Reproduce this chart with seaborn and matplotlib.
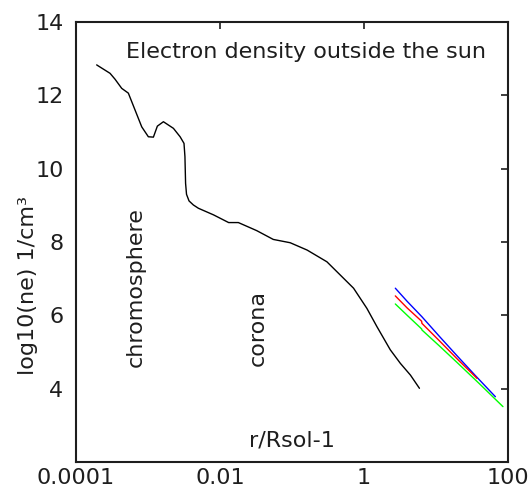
import numpy as np
import pandas as pd
import matplotlib
matplotlib.use("Agg")
import matplotlib.pyplot as plt
import seaborn as sns

# log10(r/Rsol - 1) and log10(ne) for the measured profile (black)
black_logx = [-3.713, -3.527, -3.458, -3.365, -3.273, -3.18, -3.087, -2.995, -2.925,
              -2.87, -2.786, -2.647, -2.554, -2.50, -2.487, -2.478, -2.465, -2.43,
              -2.37, -2.30, -2.09, -1.88, -1.745, -1.49, -1.26, -1.025, -0.79,
              -0.515, -0.33, -0.145, 0.04, 0.18, 0.365, 0.505, 0.645, 0.77]
black_y = [12.83, 12.60, 12.44, 12.19, 12.06, 11.60, 11.14, 10.87, 10.86,
           11.16, 11.28, 11.10, 10.87, 10.69, 10.33, 9.60, 9.30, 9.12,
           9.01, 8.92, 8.74, 8.53, 8.53, 8.31, 8.07, 7.98, 7.78,
           7.46, 7.10, 6.74, 6.19, 5.69, 5.06, 4.69, 4.37, 4.01]

# model fits (blue, red, green)
blue_logx = [0.435, 0.60, 0.805, 1.05, 1.30, 1.55, 1.825]
blue_y = [6.74, 6.38, 5.96, 5.42, 4.88, 4.35, 3.78]
red_logx = [0.435, 0.60, 0.80, 0.805, 1.05, 1.30, 1.57]
red_y = [6.53, 6.20, 5.84, 5.78, 5.30, 4.80, 4.28]
green_logx = [0.435, 0.60, 0.80, 0.805, 1.05, 1.30, 1.60, 1.93]
green_y = [6.31, 6.00, 5.63, 5.60, 5.16, 4.70, 4.14, 3.51]

xticks = [1e-4, 1e-2, 1, 100]
xticklabels = ["0.0001", "0.01", "1", "100"]
yticks = [4, 6, 8, 10, 12, 14]

sns.set_style("white")
plt.rcParams['font.family'] = ['DejaVu Sans']

FS = 16
TXT = "#1e1e1e"

fig = plt.figure(figsize=(5.29, 4.92), dpi=100)
ax = fig.add_axes([76/529, 30/492, 432/529, 440/492])

def frame(lx, y):
    return pd.DataFrame({"x": 10 ** np.array(lx), "y": y})

sns.lineplot(data=frame(black_logx, black_y), x="x", y="y", color="black",
             lw=1.0, estimator=None, sort=False, ax=ax)
sns.lineplot(data=frame(blue_logx, blue_y), x="x", y="y", color="#0000ff",
             lw=1.0, estimator=None, sort=False, ax=ax)
sns.lineplot(data=frame(red_logx, red_y), x="x", y="y", color="#ff0000",
             lw=1.0, estimator=None, sort=False, ax=ax)
sns.lineplot(data=frame(green_logx, green_y), x="x", y="y", color="#00ff00",
             lw=1.0, estimator=None, sort=False, ax=ax)

ax.set_xscale("log")
ax.set_xlim(1e-4, 100)
ax.set_ylim(2, 14)
ax.set_xticks(xticks)
ax.set_xticklabels(xticklabels)
ax.xaxis.set_minor_locator(matplotlib.ticker.NullLocator())
ax.set_yticks(yticks)
ax.set_yticklabels([str(t) for t in yticks])
ax.tick_params(direction="in", length=5, width=1.2, top=True, right=True,
               labelsize=FS, colors=TXT)
ax.tick_params(axis="x", pad=4)
ax.tick_params(axis="y", pad=9)
for s in ax.spines.values():
    s.set_color(TXT)
    s.set_linewidth(1.5)

ax.set_xlabel("")
ax.set_ylabel("log10(ne) 1/cm³", fontsize=FS, color=TXT)
ax.yaxis.set_label_coords(-0.088, 0.402)
ax.text(0.5, 0.05, "r/Rsol-1", transform=ax.transAxes, ha="center", va="center",
        fontsize=FS, color=TXT)
ax.text(0.532, 0.932, "Electron density outside the sun", transform=ax.transAxes,
        ha="center", va="center", fontsize=FS, color=TXT)
ax.text(0.139, 0.398, "chromosphere", transform=ax.transAxes, rotation=90,
        ha="center", va="center", fontsize=FS, color=TXT)
ax.text(0.421, 0.305, "corona", transform=ax.transAxes, rotation=90,
        ha="center", va="center", fontsize=FS, color=TXT)

fig.savefig("out.png", dpi=100)
